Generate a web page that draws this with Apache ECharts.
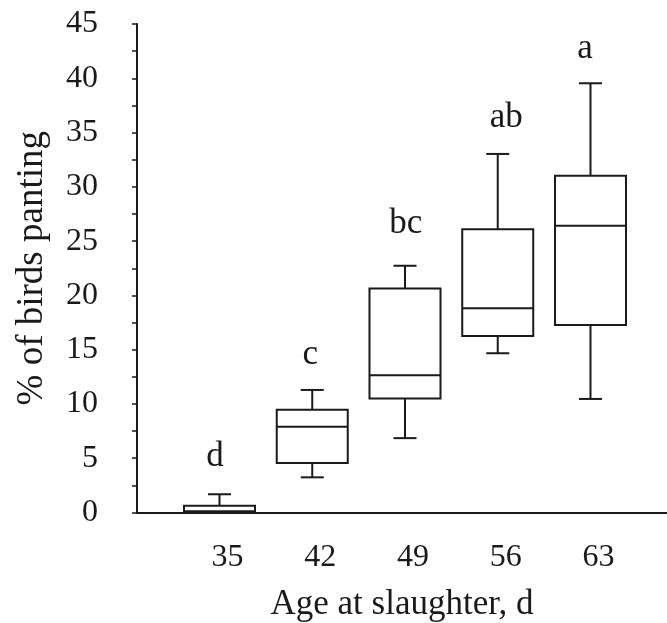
<!DOCTYPE html>
<html>
<head>
<meta charset="utf-8">
<script src="https://cdn.jsdelivr.net/npm/echarts@6/dist/echarts.min.js"></script>
<style>
html,body{margin:0;padding:0;background:#fff;}
#chart{width:667px;height:623px;}
</style>
</head>
<body>
<div id="chart"></div>
<script>
// Data
var ages = [35, 42, 49, 56, 63];
var mins = [0, 3.24, 6.85, 14.67, 10.46];
var q1s = [0.1, 4.56, 10.5, 16.26, 17.27];
var medians = [0.1, 7.9, 12.64, 18.81, 26.42];
var q3s = [0.63, 9.47, 20.64, 26.09, 31.03];
var maxs = [1.68, 11.29, 22.73, 33.03, 39.54];
var letters = ['d', 'c', 'bc', 'ab', 'a'];
var letterX = [34.66, 41.85, 49.05, 56.64, 62.58];
var letterY = [5.11, 14.54, 26.59, 36.36, 42.76];
var yTicks = [0, 5, 10, 15, 20, 25, 30, 35, 40, 45];

var FONT = '"Liberation Serif", "Times New Roman", serif';
var INK = '#1a1a1a';

var boxData = ages.map(function (a, i) {
  return [a, mins[i], q1s[i], medians[i], q3s[i], maxs[i]];
});
var letterData = letterX.map(function (x, i) { return [x, letterY[i]]; });

var chart = echarts.init(document.getElementById('chart'), null, {renderer: 'canvas'});
chart.setOption({
  backgroundColor: '#fff',
  animation: false,
  grid: {left: 137, right: 0, top: 24, bottom: 110.5, containLabel: false, outerBoundsMode: 'none'},
  xAxis: {
    type: 'value',
    min: 28.774,
    max: 68.774,
    name: 'Age at slaughter, d',
    nameLocation: 'middle',
    nameGap: 75,
    nameTextStyle: {fontFamily: FONT, fontSize: 35, color: INK},
    axisLine: {show: true, onZero: false, lineStyle: {color: INK, width: 2}},
    axisTick: {show: false},
    splitLine: {show: false},
    axisLabel: {
      customValues: ages,
      fontFamily: FONT, fontSize: 32, color: INK,
      margin: 29,
      padding: [0, 0, 0, 16]
    }
  },
  yAxis: {
    type: 'value',
    min: 0,
    max: 45,
    interval: 5,
    name: '% of birds panting',
    nameLocation: 'middle',
    nameGap: 86,
    nameRotate: 90,
    nameTextStyle: {fontFamily: FONT, fontSize: 37, color: INK},
    axisLine: {show: true, lineStyle: {color: INK, width: 2}},
    axisTick: {show: true, length: 5, lineStyle: {color: INK, width: 1.5}},
    minorTick: {show: true, splitNumber: 2, length: 5, lineStyle: {color: INK, width: 1.5}},
    splitLine: {show: false},
    minorSplitLine: {show: false},
    axisLabel: {
      customValues: yTicks,
      fontFamily: FONT, fontSize: 32, color: INK,
      margin: 39,
      padding: [3, 0, 0, 0]
    }
  },
  series: [
    {
      type: 'custom',
      data: boxData,
      encode: {x: 0, y: [1, 2, 3, 4, 5]},
      clip: false,
      renderItem: function (params, api) {
        var x = api.value(0);
        var pMin = api.coord([x, api.value(1)]);
        var pQ1 = api.coord([x, api.value(2)]);
        var pMed = api.coord([x, api.value(3)]);
        var pQ3 = api.coord([x, api.value(4)]);
        var pMax = api.coord([x, api.value(5)]);
        var half = 35.5, cap = 11.5;
        var cx = pMin[0];
        var style = {stroke: INK, lineWidth: 2, fill: null};
        return {
          type: 'group',
          children: [
            {type: 'line', shape: {x1: cx, y1: pMax[1], x2: cx, y2: pQ3[1]}, style: style},
            {type: 'line', shape: {x1: cx - cap, y1: pMax[1], x2: cx + cap, y2: pMax[1]}, style: style},
            {type: 'line', shape: {x1: cx, y1: pMin[1], x2: cx, y2: pQ1[1]}, style: style},
            {type: 'line', shape: {x1: cx - cap, y1: pMin[1], x2: cx + cap, y2: pMin[1]}, style: style},
            {type: 'rect', shape: {x: cx - half, y: pQ3[1], width: half * 2, height: pQ1[1] - pQ3[1]},
              style: {stroke: INK, lineWidth: 2, fill: '#fff'}},
            {type: 'line', shape: {x1: cx - half, y1: pMed[1], x2: cx + half, y2: pMed[1]}, style: style}
          ]
        };
      }
    },
    {
      type: 'scatter',
      data: letterData,
      symbolSize: 0,
      silent: true,
      itemStyle: {opacity: 1, color: INK},
      label: {
        show: true,
        position: 'inside',
        formatter: function (p) { return letters[p.dataIndex]; },
        fontFamily: FONT, fontSize: 35, color: INK, opacity: 1
      },
      emphasis: {disabled: true}
    }
  ]
});
</script>
</body>
</html>
